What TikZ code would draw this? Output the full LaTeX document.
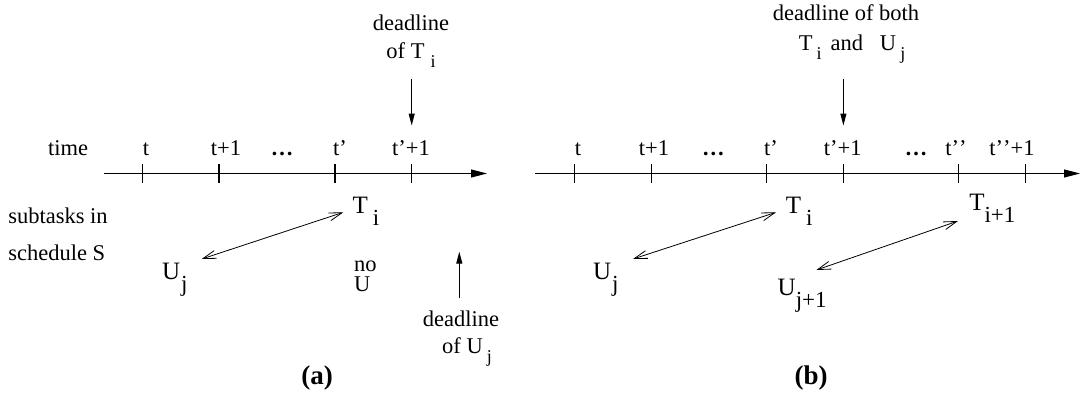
\documentclass[tikz,border=0pt]{standalone}
\usepackage{fontspec}
\setmainfont{Liberation Serif}
\usetikzlibrary{arrows.meta}
\newcommand\smf{\fontsize{22.5}{26}\selectfont}
\newcommand\bgf{\fontsize{25}{28}\selectfont}
\newcommand\losm[1]{\raisebox{-9pt}{\fontsize{18}{18}\selectfont #1}}
\newcommand\lobg[1]{\raisebox{-12pt}{\fontsize{23}{23}\selectfont #1}}
\newcommand\twoline[3]{\vbox{\baselineskip=#1\lineskiplimit=-100pt\halign{\hfil##\hfil\cr #2\cr #3\cr}}}
\begin{document}
\begin{tikzpicture}[x=1pt,y=-1pt,
  txt/.style={inner sep=0pt,outer sep=0pt,font=\smf,anchor=base},
  lab/.style={inner sep=0pt,outer sep=0pt,font=\bgf,anchor=base west},
  caption/.style={inner sep=0pt,outer sep=0pt,anchor=base,font=\fontsize{27}{30}\selectfont\bfseries},
  timeaxis/.style={line width=1.1pt,-{Triangle[length=16pt,width=8pt]}},
  tickmark/.style={line width=1.1pt},
  dlarrow/.style={line width=1pt,-{Triangle[length=12pt,width=6pt]}},
  swap/.style={line width=0.8pt,{Straight Barb[length=13pt,width=8pt]}-{Straight Barb[length=13pt,width=8pt]}}]
\useasboundingbox (0,0) rectangle (1081,396);

% ---------------- (a) ----------------
\node[txt] (timelab) at (68,155.6) {time};
\coordinate (axAs) at (104,173.5);
\coordinate (axAe) at (487,173.5);
\draw[timeaxis] (axAs) -- (axAe);
\foreach \x in {142.5,219,335,411.7} \draw[tickmark] (\x,164) -- (\x,183);
\node[txt] (a0) at (146,155.6) {t};
\node[txt] (a1) at (226,155.6) {t+1};
\node[txt] (a2) at (282,155.6) {\textbf{…}};
\node[txt] (a3) at (340,155.6) {t’};
\node[txt] (a4) at (411,155.6) {t’+1};

\node[txt] (dlA) at (411,58.6) {\twoline{28.6pt}{deadline}{of T\kern6pt\losm{i}}};
\coordinate (dA1) at (411.7,78.6);
\coordinate (dA2) at (411.7,125.5);
\draw[dlarrow] (dA1) -- (dA2);

\node[txt,anchor=base west] (sub1) at (8.3,223.3) {subtasks in};
\node[txt,anchor=base west] (sub2) at (8.3,260) {schedule S};

\node[lab] (Ta) at (352.6,213.3) {T\kern5pt\lobg{i}};
\node[lab] (Ua) at (162,279) {U\kern1pt\lobg{j}};
\draw[swap] ([shift={(39.7,-20)}]Ua.base west) -- ([shift={(-9.3,-1)}]Ta.base west);

\node[txt,anchor=base west] (noU) at (354,291.7) {\vbox{\baselineskip=20pt\lineskiplimit=-100pt\hbox{no}\hbox{U}}};

\coordinate (uA1) at (459.3,298.3);
\coordinate (uA2) at (459.3,251.7);
\draw[dlarrow] (uA1) -- (uA2);
\node[txt] (dlU) at (461,353.3) {\twoline{26.6pt}{deadline}{\kern12pt of U\kern4pt\losm{j}}};

\node[caption] (capA) at (317,384.5) {(a)};

% ---------------- (b) ----------------
\coordinate (axBs) at (535.3,173.5);
\coordinate (axBe) at (1080,173.5);
\draw[timeaxis] (axBs) -- (axBe);
\foreach \x in {574.6,651.2,766.5,843.4,958.7,1025.8} \draw[tickmark] (\x,164) -- (\x,183);
\node[txt] (b0) at (578,155.6) {t};
\node[txt] (b1) at (654,155.6) {t+1};
\node[txt] (b2) at (713.4,155.6) {\textbf{…}};
\node[txt] (b3) at (771,155.6) {t’};
\node[txt] (b4) at (842.7,155.6) {t’+1};
\node[txt] (b5) at (916,155.6) {\textbf{…}};
\node[txt] (b6) at (956,155.6) {t’\kern0pt’};
\node[txt] (b7) at (1012,155.6) {t’\kern0pt’+1};

\node[txt] (dlB) at (846,50.2) {\twoline{29.5pt}{deadline of both}{\kern12pt T\kern4pt\losm{i}\kern9pt and\kern17pt U\kern4pt\losm{j}}};
\coordinate (dB1) at (843.4,78.6);
\coordinate (dB2) at (843.4,125.5);
\draw[dlarrow] (dB1) -- (dB2);

\node[lab] (Tb) at (785.8,213.3) {T\kern5pt\lobg{i}};
\node[lab] (Ub) at (593,279) {U\kern1pt\lobg{j}};
\draw[swap] ([shift={(40,-20)}]Ub.base west) -- ([shift={(-9.7,-1)}]Tb.base west);

\node[lab] (Tb2) at (969.3,210) {T\lobg{i+1}};
\node[lab] (Ub2) at (777.7,295) {U\lobg{j+1}};
\draw[swap] ([shift={(38.7,-25)}]Ub2.base west) -- ([shift={(-11.3,11)}]Tb2.base west);

\node[caption] (capB) at (811,384.5) {(b)};
\end{tikzpicture}
\end{document}
